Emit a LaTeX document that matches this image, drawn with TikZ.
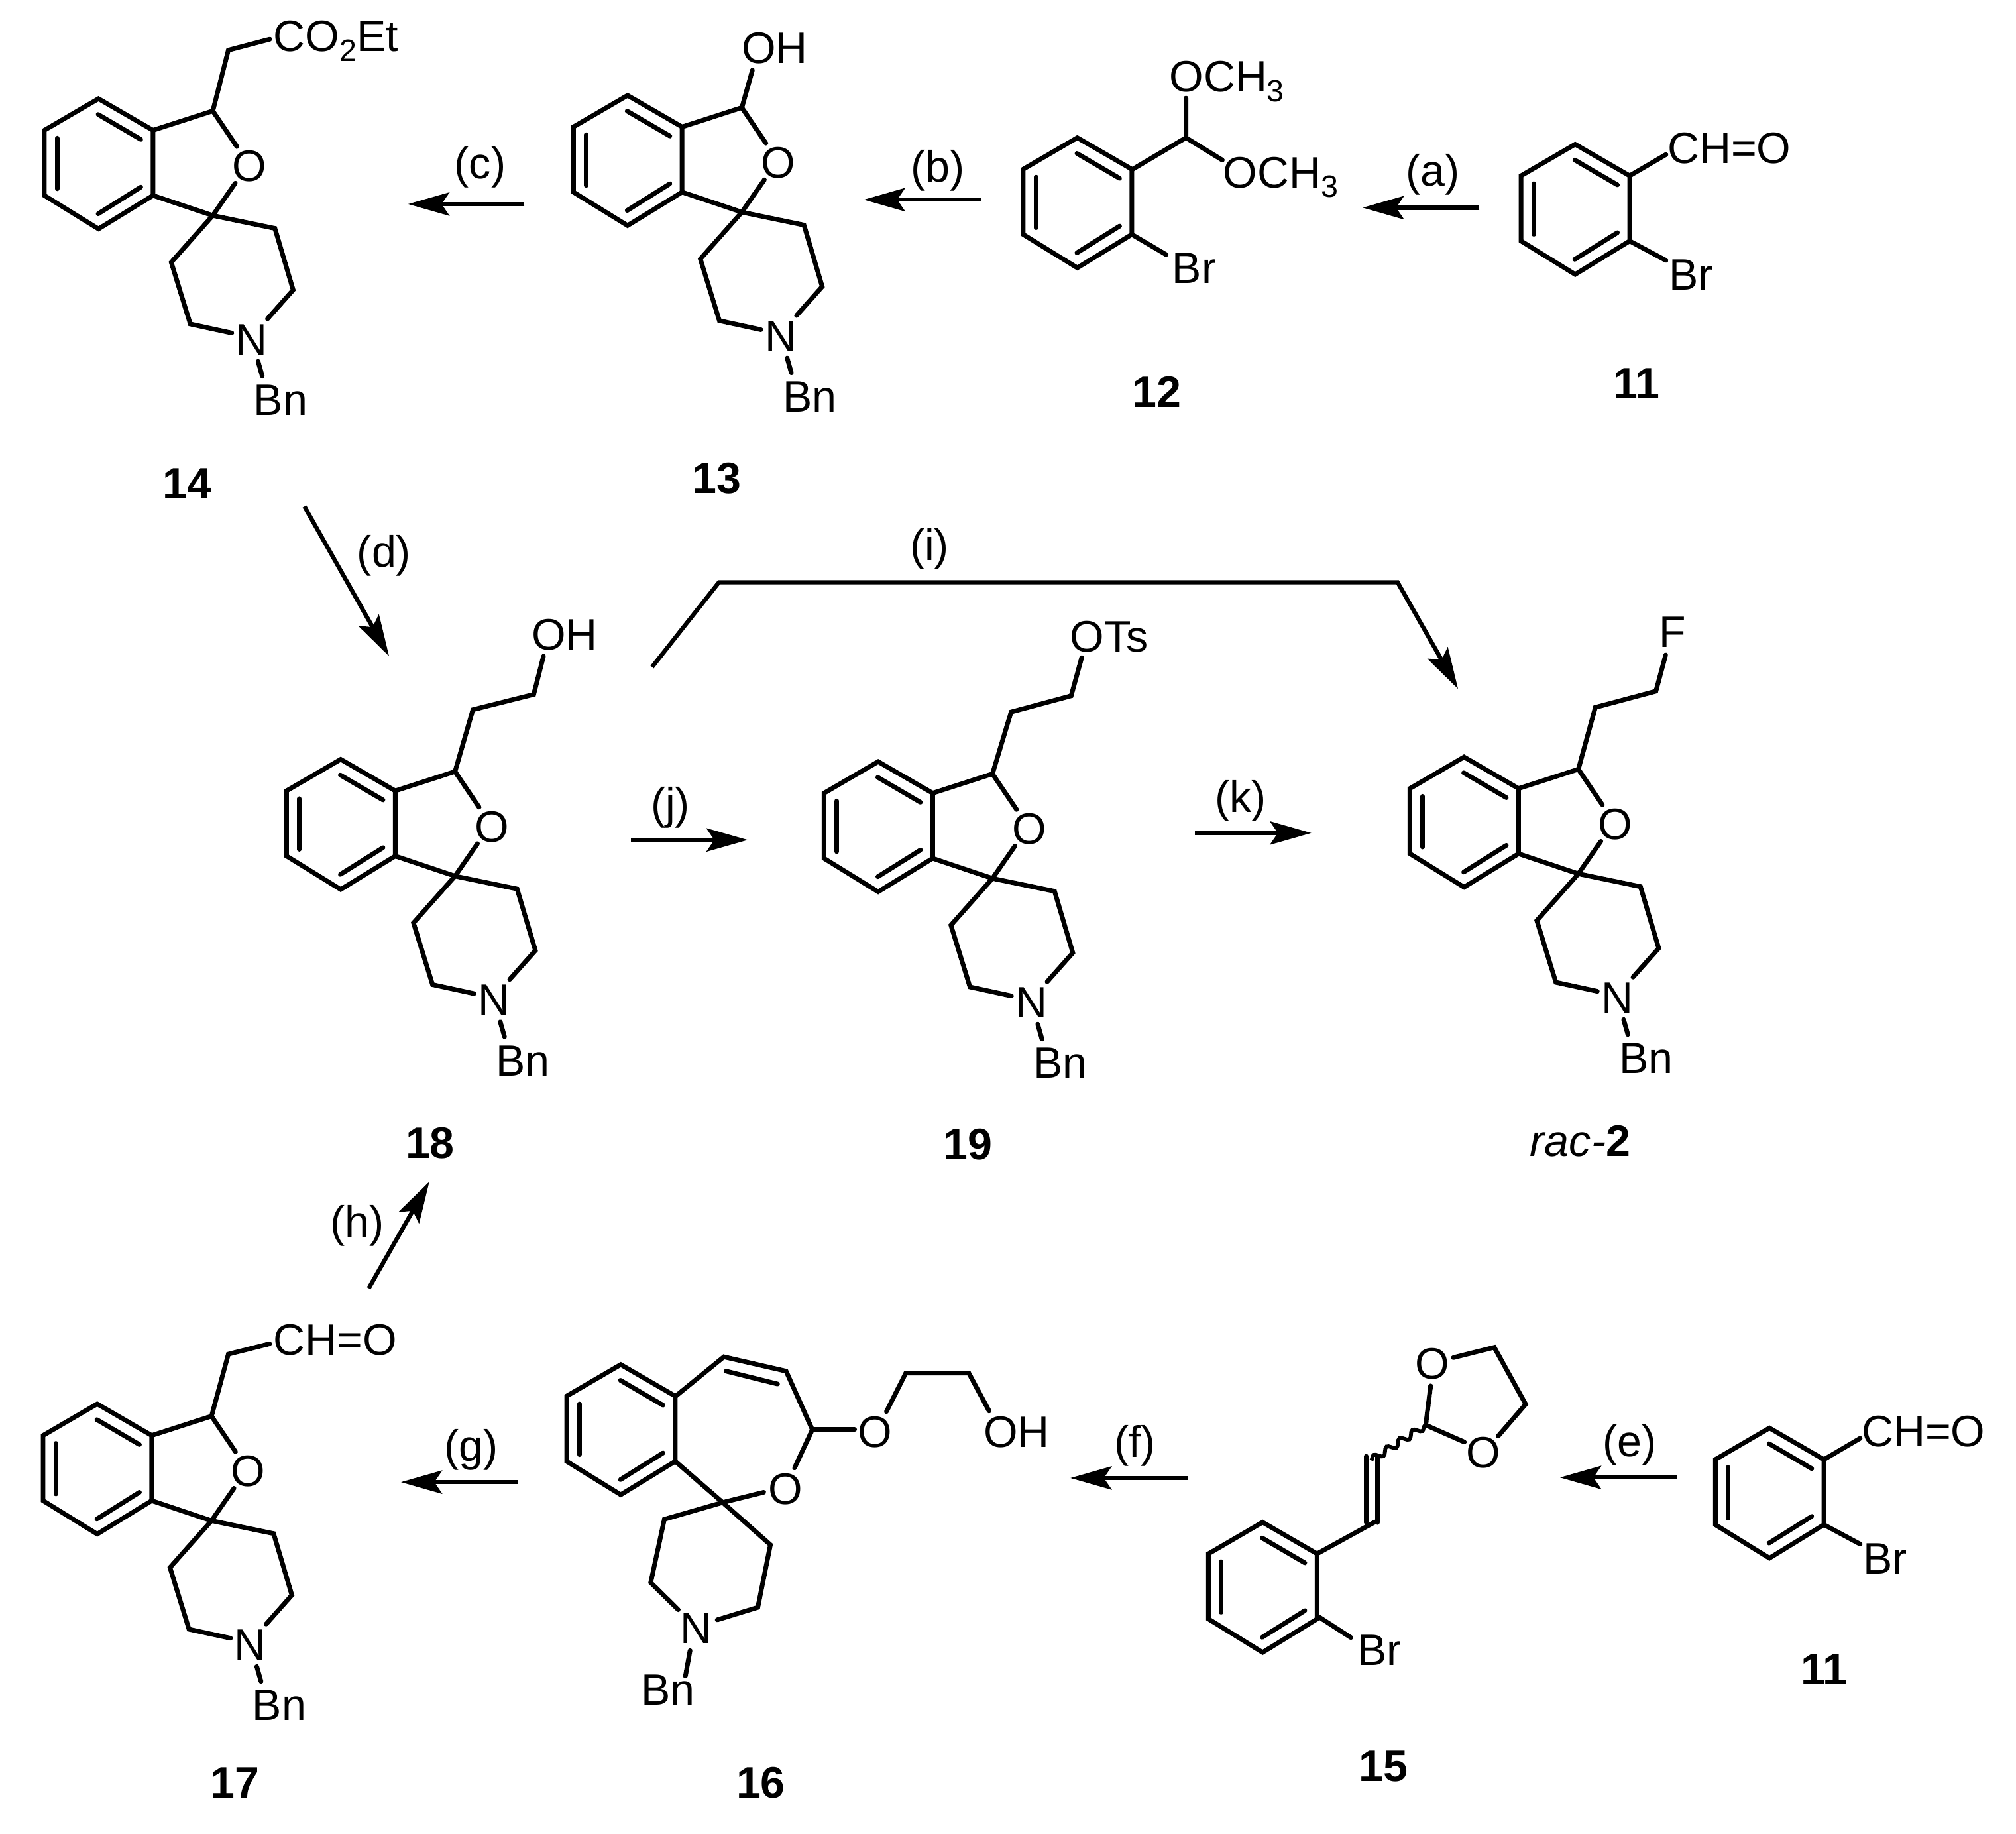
\documentclass[tikz,border=0pt]{standalone}
\usepackage{fontspec}
\setmainfont{Liberation Sans}
\usetikzlibrary{arrows.meta,decorations.pathmorphing}
\newcommand\lbl{\fontsize{34.2}{36}\selectfont}
\newcommand\subs[1]{\raisebox{-7.5pt}{\fontsize{24}{24}\selectfont #1}}
\tikzset{
  bond/.style={line width=3.6pt,line cap=round,line join=miter},
  lab/.style={inner sep=0pt,outer sep=0pt,anchor=base west,font=\lbl},
  atom/.style={inner sep=0pt,outer sep=0pt,anchor=base,font=\lbl},
  num/.style={inner sep=0pt,outer sep=0pt,anchor=base,font=\lbl\bfseries},
  rxn/.style={line width=3.3pt,-{Stealth[length=32pt,width=18pt,inset=6pt]},shorten >=0pt},
  benzene/.pic={
    \draw[bond] (76.6,76.8)--(34.5,101.3)--(34.5,152)--(76.6,178)--(119,152)--(119,101.3)--cycle;
    \draw[bond] (44.4,107.4)--(44.4,146.8);
    \draw[bond] (76.3,89)--(109.5,108.4);
    \draw[bond] (76.3,166.3)--(109.5,145.5);
  },
  spiro/.pic={
    \pic {benzene};
    \draw[bond] (119,101.3)--(165.5,86.3)--(184.2,114);
    \draw[bond] (119,152)--(165.5,167.6)--(213.8,177.6)--(228,225.5)--(208,248);
    \draw[bond] (183,142.4)--(165.5,167.6)--(133.2,204)--(148,252)--(180.3,259);
    \draw[bond] (200.7,281)--(204,292.6);
    \node[atom] (-O) at (194,141) {O};
    \node[atom] (-N) at (195.7,275.8) {N};
    \node[lab] (-Bn) at (197.3,323) {Bn};
  },
  aldehyde/.pic={
    \pic {benzene};
    \draw[bond] (119,101.3)--(147.2,84.8);
    \draw[bond] (119,152)--(147.2,167.1);
    \node[lab] (-CHO) at (148.5,91.5) {CH=O};
    \node[lab] (-Br) at (149.6,190.3) {Br};
  }
}
\begin{document}
\begin{tikzpicture}[x=1pt,y=-1pt]
\path[use as bounding box] (0,0) rectangle (1568,1426);
% 14
\pic (a14) at (0,0) {spiro};
\draw[bond] (165.5,86.3)--(177.6,39)--(209.9,30.5);
\node[lab] (t14) at (212.8,40) {CO\subs{2}Et};
\node[num] (n14) at (145.7,388) {14};
% 13
\pic (a13) at (411.5,-2.6) {spiro};
\draw[bond] (577,83.7)--(585.2,54.5);
\node[lab] (t13) at (576.9,49.2) {OH};
\node[num] (n13) at (557.6,384) {13};
% 12
\pic (a12) at (761.3,30.3) {benzene};
\draw[bond] (880.3,132)--(922.4,107.1)--(922.4,76.3);
\draw[bond] (922.4,107.1)--(950.7,124.5);
\draw[bond] (880.3,182.3)--(907,198);
\node[lab] (t12a) at (909.5,71.6) {OCH\subs{3}};
\node[lab] (t12b) at (951.3,146) {OCH\subs{3}};
\node[lab] (t12c) at (911.7,220.5) {Br};
\node[num] (n12) at (899.7,316.6) {12};
% 11 top
\pic (a11) at (1148.5,35.4) {aldehyde};
\node[num] (n11) at (1273,310.1) {11};
% 18
\pic (a18) at (188.4,513.7) {spiro};
\draw[bond] (353.9,600)--(367.8,551.9)--(415.1,540)--(422.7,510.3);
\node[lab] (t18) at (413.4,505.6) {OH};
\node[num] (n18) at (334.5,900.9) {18};
% 19
\pic (a19) at (606.4,515.5) {spiro};
\draw[bond] (771.9,601.8)--(786.4,553.7)--(833.1,541.1)--(841.3,511.4);
\node[lab] (t19) at (832.3,506.7) {OTs};
\node[num] (n19) at (752.8,902) {19};
% rac-2
\pic (a2) at (1062.1,511.9) {spiro};
\draw[bond] (1227.6,598.2)--(1240.8,550.1)--(1287.9,537.5)--(1295.5,509.3);
\node[lab] (t2) at (1290.2,503.1) {F};
\node[lab] (n2) at (1190.1,899.1) {\itshape rac-\bfseries\upshape 2};
% 17
\pic (a17) at (-1,1015) {spiro};
\draw[bond] (164.5,1101.3)--(177.6,1053.1)--(209.7,1045);
\node[lab] (t17) at (212.8,1054) {CH=O};
\node[num] (n17) at (182.9,1398.3) {17};
% 16
\pic (a16) at (406.2,984.4) {benzene};
\draw[bond] (525.2,1086)--(563,1055.2)--(611.4,1066.3)--(631.8,1111.8)--(618,1141.5);
\draw[bond] (564.7,1066.3)--(604.8,1076.3);
\draw[bond] (525.2,1136.4)--(562.1,1168.4)--(599.2,1201.3)--(589.4,1250)--(557.8,1259.7);
\draw[bond] (594,1160.5)--(562.1,1168.4)--(516.7,1181.5)--(506.1,1230.7)--(527.5,1251.8);
\draw[bond] (536.7,1283.6)--(533.1,1303.4);
\draw[bond] (631.8,1111.8)--(664.7,1111.8);
\draw[bond] (689.4,1097.8)--(704.5,1067.8)--(753.5,1067.8)--(769.3,1097.3);
\node[atom] (o16a) at (610.8,1169.7) {O};
\node[atom] (o16b) at (680.5,1125.5) {O};
\node[atom] (n16N) at (541.3,1278.1) {N};
\node[lab] (t16) at (498.8,1326.2) {Bn};
\node[lab] (t16b) at (765,1125.5) {OH};
\node[num] (n16) at (591.7,1398) {16};
% 15
\pic (a15) at (905.4,1107) {benzene};
\draw[bond] (1024.4,1208.3)--(1069.5,1183.5);
\draw[bond] (1062.7,1132.5)--(1062.7,1184);
\draw[bond] (1071.4,1132.5)--(1071.4,1184);
\draw[line width=3pt,decorate,decoration={snake,amplitude=2.5pt,segment length=12pt}] (1066.5,1135.6)--(1108.9,1108.2);
\draw[bond] (1112.7,1077.7)--(1108.9,1108.2)--(1138.9,1121.4);
\draw[bond] (1130.3,1055.8)--(1162.2,1047.8)--(1186.6,1092)--(1165.2,1116.8);
\draw[bond] (1024.4,1256.5)--(1050.7,1273.5);
\node[atom] (o15a) at (1113.8,1072.3) {O};
\node[atom] (o15b) at (1153.9,1141.3) {O};
\node[lab] (t15) at (1055.7,1295.3) {Br};
\node[num] (n15) at (1075.9,1385) {15};
% 11 bottom
\pic (b11) at (1299.6,1033.7) {aldehyde};
\node[num] (m11) at (1418.6,1310) {11};
% arrows
\coordinate (ca) at (1150.6,161.5); \coordinate (cb) at (1059.8,161.5);
\draw[rxn] (ca)--(cb); \node[atom] (la) at (1114.3,144.7) {(a)};
\coordinate (cc) at (762.9,155.3); \coordinate (cd) at (671.8,155.3);
\draw[rxn] (cc)--(cd); \node[atom] (lb) at (729.3,141.7) {(b)};
\coordinate (ce) at (407.9,158.7); \coordinate (cf) at (317.4,158.7);
\draw[rxn] (ce)--(cf); \node[atom] (lc) at (373.4,139) {(c)};
\coordinate (cg) at (236.8,393.9); \coordinate (ch) at (302.6,510.3);
\draw[rxn] (cg)--(ch); \node[atom] (ld) at (298.7,441) {(d)};
\coordinate (ci) at (1304,1149); \coordinate (cj) at (1213.3,1149);
\draw[rxn] (ci)--(cj); \node[atom] (le) at (1267.7,1132.6) {(e)};
\coordinate (ck) at (923.9,1149.4); \coordinate (cl) at (832.5,1149.4);
\draw[rxn] (ck)--(cl); \node[atom] (lf) at (882.8,1133) {(f)};
\coordinate (cm) at (402.6,1152.6); \coordinate (cn) at (311.8,1152.6);
\draw[rxn] (cm)--(cn); \node[atom] (lg) at (366.3,1136.5) {(g)};
\coordinate (co) at (286.8,1001.8); \coordinate (cp) at (333.9,919);
\draw[rxn] (co)--(cp); \node[atom] (lh) at (277.6,962.3) {(h)};
\coordinate (cq) at (507.2,518.7); \coordinate (cr) at (559.2,452.8); \coordinate (cs) at (1087,452.8); \coordinate (ct) at (1134,535.7);
\draw[rxn,line join=miter] (cq)--(cr)--(cs)--(ct); \node[atom] (li) at (722.9,436) {(i)};
\coordinate (cu) at (490.5,653.2); \coordinate (cv) at (581.6,653.2);
\draw[rxn] (cu)--(cv); \node[atom] (lj) at (521.4,637) {(j)};
\coordinate (cw) at (929.5,647.8); \coordinate (cx) at (1019.9,647.8);
\draw[rxn] (cw)--(cx); \node[atom] (lk) at (965,631.7) {(k)};
\end{tikzpicture}
\end{document}
